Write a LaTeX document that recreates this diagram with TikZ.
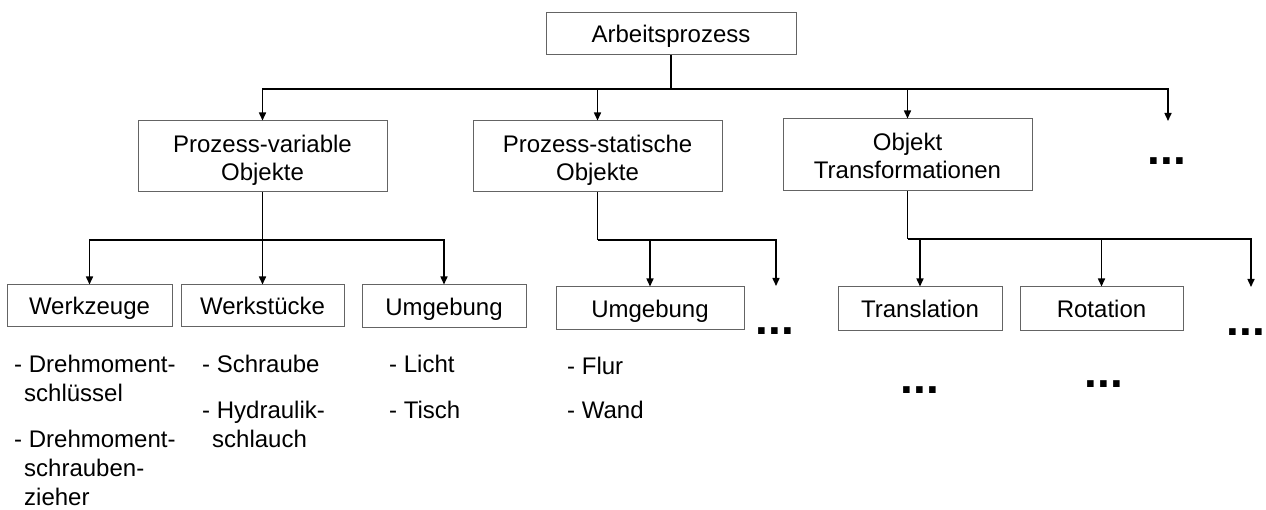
\documentclass[tikz,border=0pt]{standalone}
\usepackage{fontspec}
\setmainfont{Liberation Sans}
\usetikzlibrary{arrows.meta}
\definecolor{boxgray}{RGB}{100,100,100}
\newcommand{\fsz}{\fontsize{24pt}{28pt}\selectfont}
\newcommand{\dotsz}{\fontsize{46pt}{50pt}\selectfont\bfseries}
\begin{document}
\begin{tikzpicture}[x=1pt,y=-1pt,
  box/.style={draw=boxgray, line width=1pt, inner sep=0pt, font=\fsz},
  onebox/.style={box, text height=17.2pt, text depth=0pt},
  conn/.style={line width=1.5pt, draw=black},
  arr/.style={conn, -{Triangle[width=7pt,length=8pt]}},
  txt/.style={inner sep=0pt, font=\fsz, anchor=base west},
  ctxt/.style={inner sep=0pt, font=\fsz, anchor=base},
  dotstyle/.style={inner sep=0pt, font=\dotsz, anchor=base}]
\useasboundingbox (0,0) rectangle (1266,510);

% level 1
\node[onebox, minimum width=250pt, minimum height=42pt] (top) at (671,34) {Arbeitsprozess};

% level 2
\node[box, minimum width=249pt, minimum height=71pt] (pv) at (262.5,156.5) {};
\node[ctxt] (pvt1) at (262.5,153) {Prozess-variable};
\node[ctxt] (pvt2) at (262.5,181) {Objekte};
\node[box, minimum width=249pt, minimum height=71pt] (ps) at (597.5,156.5) {};
\node[ctxt] (pst1) at (597.5,153) {Prozess-statische};
\node[ctxt] (pst2) at (597.5,181) {Objekte};
\node[box, minimum width=249pt, minimum height=72pt] (ob) at (907.5,155) {};
\node[ctxt] (obt1) at (907.5,151) {Objekt};
\node[ctxt] (obt2) at (907.5,179) {Transformationen};
\node[dotstyle] (dtop) at (1167,165) {...};

% level 3
\node[onebox, minimum width=165pt, minimum height=42pt] (wz) at (89.5,306) {Werkzeuge};
\node[onebox, minimum width=163pt, minimum height=42pt] (ws) at (262.5,306) {Werkst\"ucke};
\node[onebox, minimum width=164pt, minimum height=43pt] (um1) at (444,306.5) {Umgebung};
\node[onebox, minimum width=188pt, minimum height=43pt] (um2) at (650,308.5) {Umgebung};
\node[onebox, minimum width=164pt, minimum height=44pt] (tr) at (920,309) {Translation};
\node[onebox, minimum width=163pt, minimum height=44pt] (ro) at (1101.5,309) {Rotation};
\node[dotstyle] (dps) at (775,335) {...};
\node[dotstyle] (dob) at (1246,336) {...};
\node[dotstyle] (dtr) at (920,393) {...};
\node[dotstyle] (dro) at (1104,388) {...};

% lists
\node[txt] (l11) at (14,373) {- Drehmoment-};
\node[txt] (l12) at (24,402) {schl\"ussel};
\node[txt] (l13) at (14,447) {- Drehmoment-};
\node[txt] (l14) at (24,476) {schrauben-};
\node[txt] (l15) at (24,505) {zieher};
\node[txt] (l21) at (202,373) {- Schraube};
\node[txt] (l22) at (202,418) {- Hydraulik-};
\node[txt] (l23) at (212,447) {schlauch};
\node[txt] (l31) at (389,373) {- Licht};
\node[txt] (l32) at (389,418) {- Tisch};
\node[txt] (l41) at (567,374) {- Flur};
\node[txt] (l42) at (567,418) {- Wand};

% connectors level 1 -> 2
\coordinate (b0) at (671,89);
\coordinate (e1) at (1168,121);
\draw[conn] (top) -- (b0);
\draw[arr] (b0) -| (pv);
\draw[arr] (b0) -| (ps);
\draw[arr] (b0) -| (ob);
\draw[arr] (b0) -| (e1);

% connectors level 2 -> 3
\coordinate (b1) at (262.5,240);
\draw[conn] (pv) -- (b1);
\draw[arr] (b1) -| (wz);
\draw[arr] (b1) -- (ws);
\draw[arr] (b1) -| (um1);

\coordinate (b2) at (597.5,240);
\coordinate (e2) at (776,286);
\draw[conn] (ps) -- (b2);
\draw[arr] (b2) -| (um2);
\draw[arr] (b2) -| (e2);

\coordinate (b3) at (907.5,239);
\coordinate (e3) at (1251,287);
\draw[conn] (ob) -- (b3);
\draw[arr] (b3) -| (tr);
\draw[arr] (b3) -| (ro);
\draw[arr] (b3) -| (e3);
\end{tikzpicture}
\end{document}
